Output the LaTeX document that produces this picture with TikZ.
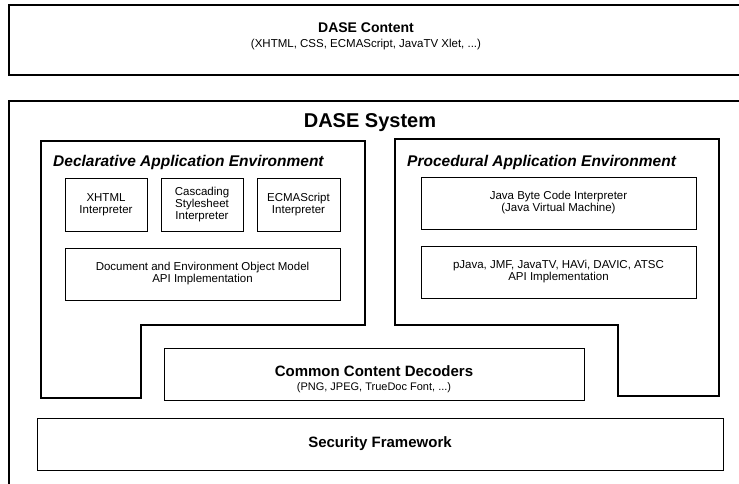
\documentclass[tikz,border=0pt]{standalone}
\usepackage{fontspec}
\setmainfont{Liberation Sans}
\begin{document}
\begin{tikzpicture}[x=1pt,y=-1pt,
  frame/.style={draw=black,line width=1.1pt},
  inbox/.style={draw=black,line width=0.9pt,rectangle,inner sep=0pt,align=center,
    font=\fontsize{11.5}{12}\selectfont},
  lbl/.style={inner sep=0pt,align=center},
  envtitle/.style={inner sep=0pt,anchor=west,font=\bfseries\itshape\fontsize{15.5}{17}\selectfont}]
\useasboundingbox (0,0) rectangle (739,484);
% DASE Content
\draw[frame] (739,5) -- (9,5) -- (9,75) -- (739,75);
\node[lbl,font=\bfseries\fontsize{14}{16}\selectfont] (dc) at (366,28) {DASE Content};
\node[lbl,font=\fontsize{11.5}{13}\selectfont] (dcs) at (366,45) {(XHTML, CSS, ECMAScript, JavaTV Xlet, ...)};
% DASE System
\draw[frame] (739,101) -- (9,101) -- (9,484);
\node[lbl,font=\bfseries\fontsize{20}{22}\selectfont] (ds) at (370,123) {DASE System};
% Declarative environment
\draw[frame] (41,141) -- (365,141) -- (365,325) -- (141,325) -- (141,398) -- (41,398) -- cycle;
\node[envtitle] (dae) at (53,162) {Declarative Application Environment};
\node[inbox,minimum width=82pt,minimum height=53pt] (xhtml) at (106,204.5) {XHTML\\Interpreter};
\node[inbox,minimum width=82pt,minimum height=53pt] (css) at (202,204.5) {Cascading\\Stylesheet\\Interpreter};
\node[inbox,minimum width=83pt,minimum height=53pt] (ecma) at (298.5,204.5) {ECMAScript\\Interpreter};
\node[inbox,minimum width=275pt,minimum height=52pt] (dom) at (202.5,274) {Document and Environment Object Model\\API Implementation};
% Procedural environment
\draw[frame] (395,139) -- (719,139) -- (719,396) -- (618,396) -- (618,325) -- (395,325) -- cycle;
\node[envtitle] (pae) at (407,162) {Procedural Application Environment};
\node[inbox,minimum width=275pt,minimum height=52pt] (jvm) at (558.5,203) {Java Byte Code Interpreter\\(Java Virtual Machine)};
\node[inbox,minimum width=275pt,minimum height=52pt] (pjava) at (558.5,272) {pJava, JMF, JavaTV, HAVi, DAVIC, ATSC\\API Implementation};
% Common content decoders
\node[inbox,line width=1pt,minimum width=420pt,minimum height=52pt] (ccd) at (374,374) {};
\node[lbl,font=\bfseries\fontsize{15}{17}\selectfont] (ccdt) at (374,371) {Common Content Decoders};
\node[lbl,font=\fontsize{11}{12}\selectfont] (ccds) at (374,388) {(PNG, JPEG, TrueDoc Font, ...)};
% Security framework
\node[inbox,line width=1pt,minimum width=686pt,minimum height=52pt,font=\bfseries\fontsize{15}{17}\selectfont] (sec) at (380,444) {Security Framework};
\end{tikzpicture}
\end{document}
